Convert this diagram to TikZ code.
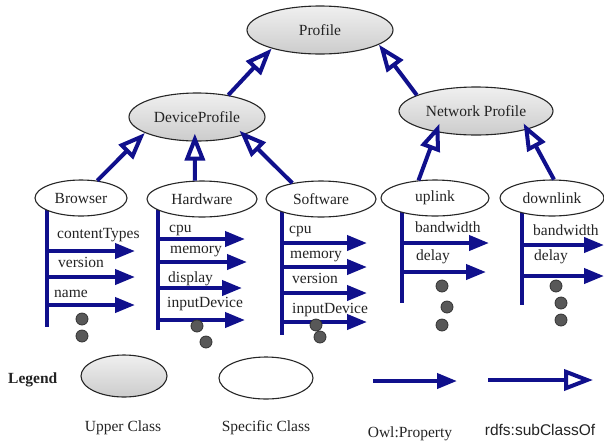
\documentclass[tikz,border=0pt]{standalone}
\usepackage{fontspec}
\setmainfont{Liberation Serif}
\newfontfamily\sansf{Liberation Sans}
\usetikzlibrary{arrows.meta,shapes.geometric,calc}
\pgfdeclarelayer{bars}
\pgfsetlayers{bars,main}
\definecolor{navyline}{RGB}{16,16,140}
\definecolor{inktext}{RGB}{35,35,35}
\definecolor{dotgray}{RGB}{88,88,88}
\begin{document}
\begin{tikzpicture}[x=1pt,y=-1pt,
  font=\fontsize{15.5}{18}\selectfont,
  upper/.style={ellipse,draw=black!85,line width=1.1pt,inner sep=0pt,
    top color=black!6,bottom color=black!20,text=inktext},
  specific/.style={ellipse,draw=black!85,line width=1.1pt,inner sep=0pt,
    fill=white,text=inktext},
  subcls/.style={draw=navyline,line width=4pt,
    -{Triangle[length=27pt,width=20pt,fill=white]}},
  subclsbig/.style={draw=navyline,line width=4pt,
    -{Triangle[length=29pt,width=21pt,fill=white]}},
  prop/.style={draw=navyline,line width=4pt,-{Triangle[length=20pt,width=15pt]}},
  bar/.style={draw=navyline,line width=4pt},
  lbl/.style={anchor=base west,inner sep=0pt,text=inktext},
  keytext/.style={inner sep=0pt,text=inktext},
  dot/.style={circle,draw=black!80,line width=0.8pt,fill=dotgray,
    minimum size=12pt,inner sep=0pt}]
\useasboundingbox (0,0) rectangle (604,445);

% class hierarchy
\node[upper,minimum width=146pt,minimum height=48pt] (profile) at (320,30) {Profile};
\node[upper,minimum width=136pt,minimum height=48pt] (device) at (197,117) {DeviceProfile};
\node[upper,minimum width=154pt,minimum height=48pt] (network) at (476,111) {Network Profile};
\node[specific,minimum width=92pt,minimum height=36pt] (browser) at (81,198) {Browser};
\node[specific,minimum width=110pt,minimum height=36pt] (hardware) at (202,199) {Hardware};
\node[specific,minimum width=110pt,minimum height=36pt] (software) at (321,199) {Software};
\node[specific,minimum width=108pt,minimum height=36pt] (uplink) at (435,198) {uplink};
\node[specific,minimum width=104pt,minimum height=36pt] (downlink) at (552,198) {downlink};

% property ladders: bar hanging below a class, one arrow per property
\begin{pgfonlayer}{bars}
\coordinate (browser-foot) at (47,327);
\draw[bar] (browser.center -| browser-foot) -- (browser-foot);
\foreach \ay/\tip/\txt/\lx/\ly [count=\i] in
  {251/135/contentTypes/57/238, 277/135/version/58/267, 305/135/name/54/297}{
  \coordinate (browser-p\i) at (\tip,\ay);
  \draw[prop] (browser-foot |- browser-p\i) -- (browser-p\i);
  \node[lbl] (browser-l\i) at (\lx,\ly) {\txt};
}
\coordinate (hardware-foot) at (158,330);
\draw[bar] (hardware.center -| hardware-foot) -- (hardware-foot);
\foreach \ay/\tip/\txt/\lx/\ly [count=\i] in
  {239/245/cpu/169/232, 262/247/memory/170/253, 288/242/display/168/282,
   320/245/inputDevice/167/307}{
  \coordinate (hardware-p\i) at (\tip,\ay);
  \draw[prop] (hardware-foot |- hardware-p\i) -- (hardware-p\i);
  \node[lbl] (hardware-l\i) at (\lx,\ly) {\txt};
}
\coordinate (software-foot) at (282,335);
\draw[bar] (software.center -| software-foot) -- (software-foot);
\foreach \ay/\tip/\txt/\lx/\ly [count=\i] in
  {243/367/cpu/289/233, 267/367/memory/290/258, 293/367/version/292/283,
   322/367/inputDevice/292/313}{
  \coordinate (software-p\i) at (\tip,\ay);
  \draw[prop] (software-foot |- software-p\i) -- (software-p\i);
  \node[lbl] (software-l\i) at (\lx,\ly) {\txt};
}
\coordinate (uplink-foot) at (402,303);
\draw[bar] (uplink.center -| uplink-foot) -- (uplink-foot);
\foreach \ay/\tip/\txt/\lx/\ly [count=\i] in
  {243/489/bandwidth/415/232, 272/486/delay/416/260}{
  \coordinate (uplink-p\i) at (\tip,\ay);
  \draw[prop] (uplink-foot |- uplink-p\i) -- (uplink-p\i);
  \node[lbl] (uplink-l\i) at (\lx,\ly) {\txt};
}
\coordinate (downlink-foot) at (522,305);
\draw[bar] (downlink.center -| downlink-foot) -- (downlink-foot);
\foreach \ay/\tip/\txt/\lx/\ly [count=\i] in
  {245/604/bandwidth/533/235, 276/604/delay/534/260}{
  \coordinate (downlink-p\i) at (\tip,\ay);
  \draw[prop] (downlink-foot |- downlink-p\i) -- (downlink-p\i);
  \node[lbl] (downlink-l\i) at (\lx,\ly) {\txt};
}
\end{pgfonlayer}

% continuation dots
\node[dot] (browser-d1) at (82,319) {};
\node[dot] (browser-d2) at (82,336) {};
\node[dot] (hardware-d1) at (197,326) {};
\node[dot] (hardware-d2) at (206,342) {};
\node[dot] (software-d1) at (316,325) {};
\node[dot] (software-d2) at (320,337) {};
\node[dot] (uplink-d1) at (442,286) {};
\node[dot] (uplink-d2) at (447,307) {};
\node[dot] (uplink-d3) at (442,325) {};
\node[dot] (downlink-d1) at (556,286) {};
\node[dot] (downlink-d2) at (561,303) {};
\node[dot] (downlink-d3) at (561,320) {};

% subclass links
\draw[subcls] (device.35) -- (profile.201);
\draw[subcls] (network.165) -- (profile.346);
\draw[subcls] (browser.47) -- (device.197);
\draw[subcls,shorten >=-8pt] (hardware.111) -- (device.265);
\draw[subcls,shorten >=-6pt] (software.151) -- (device.339);
\draw[subcls,shorten >=-9pt] (uplink.133) -- (network.208);
\draw[subcls,shorten >=-7pt] (downlink.84) -- (network.340);

% legend
\node[anchor=west,inner sep=0pt,text=inktext,
  font=\fontsize{15.5}{18}\selectfont\bfseries] (legend) at (8,380) {Legend};
\node[upper,minimum width=86pt,minimum height=42pt] (key-upper) at (124,376) {};
\node[specific,minimum width=94pt,minimum height=42pt] (key-specific) at (266,378) {};
\coordinate (key-prop-a) at (373,381);
\coordinate (key-prop-b) at (457,381);
\draw[prop] (key-prop-a) -- (key-prop-b);
\coordinate (key-sub-a) at (488,380);
\coordinate (key-sub-b) at (593,380);
\draw[subclsbig] (key-sub-a) -- (key-sub-b);
\node[keytext] (key-upper-t) at (123,428) {Upper Class};
\node[keytext] (key-specific-t) at (266,428) {Specific Class};
\node[keytext] (key-prop-t) at (410,434) {Owl:Property};
\node[keytext,font=\fontsize{15.5}{18}\selectfont\sansf] (key-sub-t) at (540,430) {rdfs:subClassOf};
\end{tikzpicture}
\end{document}
